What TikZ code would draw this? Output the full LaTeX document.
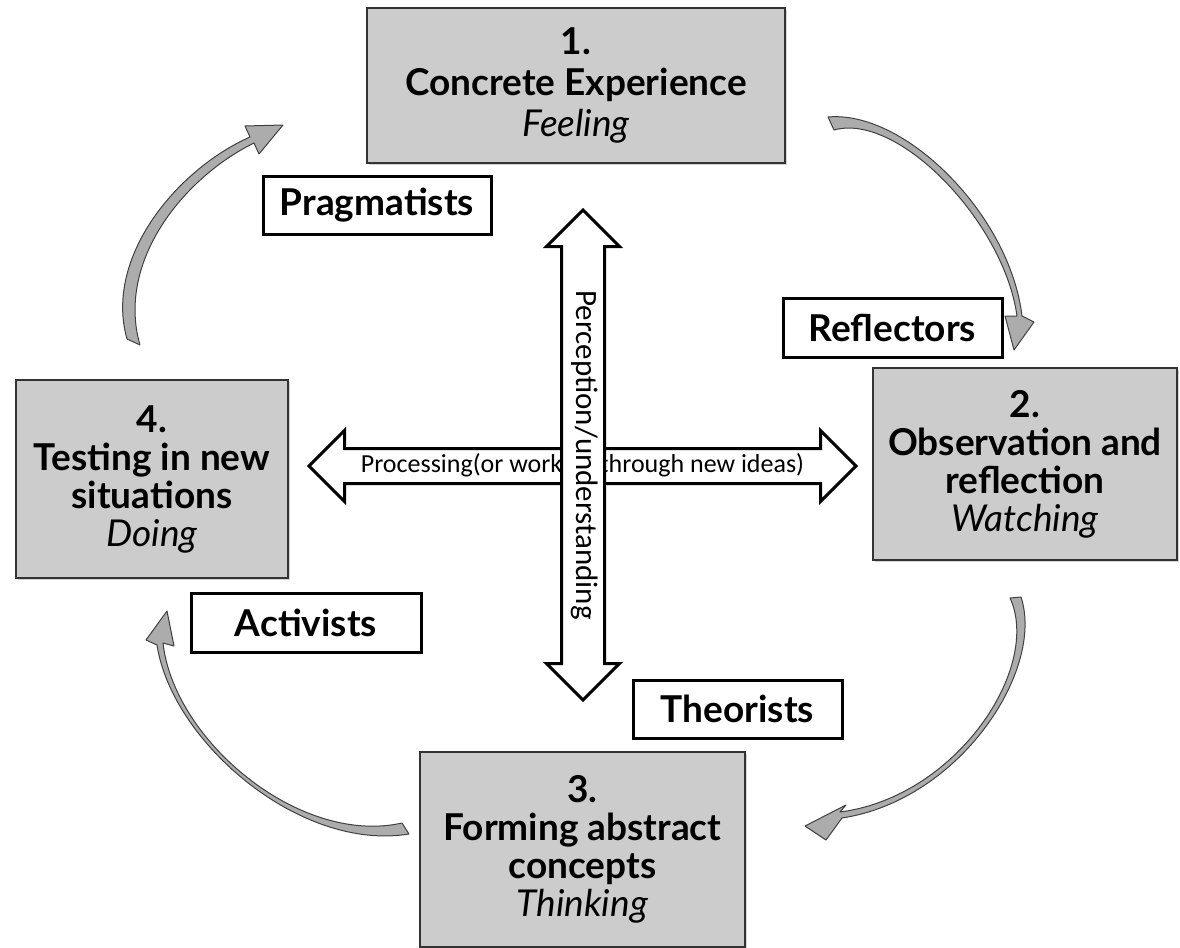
\documentclass[tikz,border=0pt]{standalone}
\usepackage{fontspec}
\setmainfont{Lato}
\newfontfamily\calibri{Carlito}
\usetikzlibrary{shapes.arrows,shadows}

\tikzset{
  stage/.style={draw=black!80, line width=1.3pt, fill=gray!40, align=center,
    inner sep=0pt, font=\bfseries\fontsize{18.5}{19}\selectfont,
    drop shadow={shadow xshift=1.2pt, shadow yshift=-1.2pt, opacity=0.35}},
  learner/.style={draw=black, line width=1.5pt, fill=white, inner sep=0pt,
    font=\bfseries\fontsize{18.5}{19}\selectfont},
  axis/.style={double arrow, draw=black, line width=1.5pt, fill=white,
    inner xsep=0pt},
  cyclearrow/.style={fill=gray!65, draw=black!75, line width=0.5pt, line join=round}
}

\begin{document}
\begin{tikzpicture}[x=0.5pt,y=-0.5pt]
  \useasboundingbox (0,0) rectangle (1180,948);

  % the four stages
  \node[stage, minimum width=209pt, minimum height=77.5pt, font=\bfseries\fontsize{18.5}{20.5}\selectfont]
    (concrete) at (576,85.5) {1.\\Concrete Experience\\\textit{\mdseries Feeling}};
  \node[stage, minimum width=152pt, minimum height=96pt] (observation) at (1025,464)
    {2.\\Observation and\\reflection\\\textit{\mdseries Watching}};
  \node[stage, minimum width=162.5pt, minimum height=97.5pt] (abstract) at (582.5,849.5)
    {3.\\Forming abstract\\concepts\\\textit{\mdseries Thinking}};
  \node[stage, minimum width=136pt, minimum height=99pt] (testing) at (152,479)
    {4.\\Testing in new\\situations\\\textit{\mdseries Doing}};

  % learner types
  \node[learner, minimum width=114pt, minimum height=29pt] (pragmatists) at (377,205) {Pragmatists};
  \node[learner, minimum width=109.5pt, minimum height=29.5pt] (reflectors) at (892.5,327.5) {Reflectors};
  \node[learner, minimum width=115pt, minimum height=29.5pt] (activists) at (306,622.5) {Activists};
  \node[learner, minimum width=104.5pt, minimum height=29pt] (theorists) at (737.5,709) {Theorists};

  % the two axes
  \node[axis, font=\calibri\fontsize{13}{13}\selectfont, text height=9pt, text depth=3pt,
    inner ysep=2pt, minimum height=273.5pt, double arrow head extend=9pt]
    (processing) at (582.5,466) {Processing(or working through new ideas)};
  \node[axis, font=\calibri\fontsize{15.5}{15.5}\selectfont, text height=10.5pt, text depth=3.5pt,
    inner ysep=3pt, minimum height=245pt, double arrow head extend=7.5pt, rotate=-90]
    (perception) at (583,455) {Perception/understanding};

  % cycle arrows
  \filldraw[cyclearrow] (828,117) .. controls (905,110) and (1010,215) .. (1022,316)
    -- (1034,322) -- (1014,350) -- (1005,316) -- (1017,316)
    .. controls (1004,222) and (898,112) .. (834,130) -- cycle;
  \filldraw[cyclearrow] (1021,597) .. controls (1045,670) and (960,800) .. (842,818)
    -- (826,840) -- (805,826) -- (846,805) -- (840,812)
    .. controls (957,797) and (1042,667) .. (1010,598) -- cycle;
  \filldraw[cyclearrow] (409,834) .. controls (300,852) and (172,742) .. (157,645)
    -- (146,640) -- (167,611) -- (174,646) -- (163,643)
    .. controls (174,741) and (300,846) .. (402,823) -- cycle;
  \filldraw[cyclearrow] (127,339) .. controls (104,258) and (176,170) .. (250,137)
    -- (245,126) -- (283,125) -- (259,154) -- (254,143)
    .. controls (183,178) and (116,262) .. (140,345) -- cycle;
\end{tikzpicture}
\end{document}
